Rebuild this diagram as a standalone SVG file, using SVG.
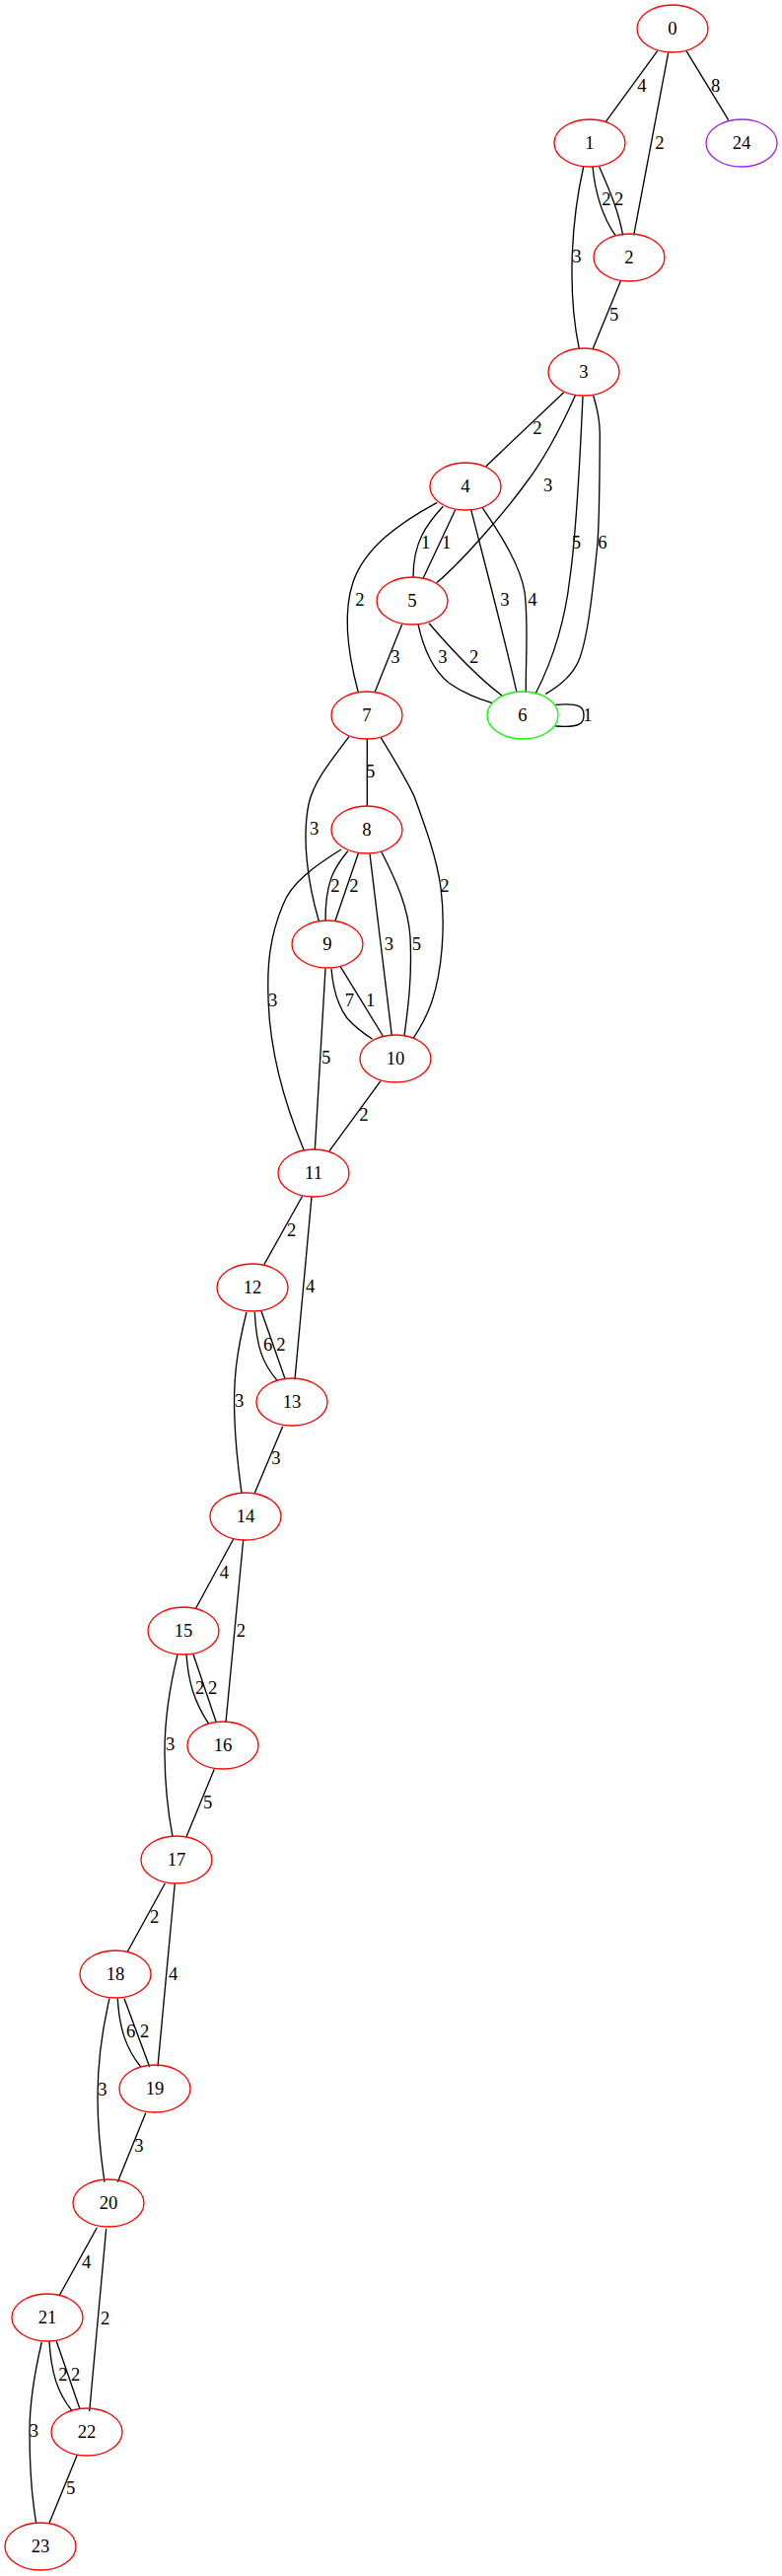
<svg xmlns="http://www.w3.org/2000/svg" width="793" height="2611" viewBox="0 0 793 2611">
<style>
.n ellipse{fill:none;stroke:#ff0000;stroke-width:1.33}
.n text,.l text{font-family:"Liberation Serif","Times New Roman",serif;font-size:18.67px;text-anchor:middle;fill:#000}
.e path{fill:none;stroke:#000;stroke-width:1.33}
</style>
<rect width="793" height="2611" fill="#fff"/>
<g id="edges" class="e">
<path d="M666.7,51.7 L614.3,123.3"/>
<path d="M677.7,53.3 L642.7,238.3"/>
<path d="M696,51.7 L738.7,121.7"/>
<path d="M601,169 C603,190 608,215 624,238.7"/>
<path d="M607.7,169 C616,188 627,212 631.7,238.7"/>
<path d="M591.7,169 C578,230 576,300 587.3,353.3"/>
<path d="M629.3,285 L601,354"/>
<path d="M571.7,397.7 L492.7,472.7"/>
<path d="M583.3,401 C568,435 550,468 533,490 C515,515 470,568 442.7,590.7"/>
<path d="M591,401.7 C588,470 583,550 578,585 C573,630 560,670 543.3,702.7"/>
<path d="M601.7,401 C606,415 608.3,425 608.3,440 C608,490 608,540 605,560 C600,610 595,650 586.7,670 C580,685 568,695 553.3,703.3"/>
<path d="M449.3,513.3 C432,532 419,550 419,585"/>
<path d="M461.7,516.7 L429.3,585.7"/>
<path d="M443.3,509.3 C405,530 370,555 358,590 C348,620 352,660 363.3,701.7"/>
<path d="M477.7,516.7 C490,565 510,640 524,701.7"/>
<path d="M489,514.3 C510,545 528,575 532,600 C536,630 533,670 533.3,701.7"/>
<path d="M407.7,632.7 L380,701.7"/>
<path d="M424,632.7 C430,660 440,680 455,692 C470,703 485,708 499.3,712.7"/>
<path d="M435,631.7 C455,655 480,683 509,705"/>
<path d="M563.3,714.3 C590,712 592,718 592,725 C592,732 590,738 563.3,736"/>
<path d="M372.3,749 L372.3,817.3"/>
<path d="M354,746.7 C335,772 318,792 313,815 C306,850 312,895 323.3,933.3"/>
<path d="M386,747.3 C400,770 412,790 420,807 C432,840 443,870 447,900 C452,940 448,985 438,1015 C433,1030 426,1042 419,1052.7"/>
<path d="M352.7,862.7 C338,880 330,895 330,933.3"/>
<path d="M363.3,865 L340,933.3"/>
<path d="M346,861 C320,877 295,895 287,917 C273,950 271,980 272,1010 C273,1060 285,1110 308.3,1166"/>
<path d="M375,865.7 L397.3,1049.3"/>
<path d="M386.7,863.3 C402,893 414,920 416,950 C418,990 414,1020 410,1050"/>
<path d="M336,981.7 C338,1005 343,1020 352,1032 C360,1041 368,1047 377.7,1053.3"/>
<path d="M345,979.3 L388.3,1050"/>
<path d="M330,981.7 L319.3,1166"/>
<path d="M386,1095.7 L334,1166.7"/>
<path d="M306.7,1212.3 L267.3,1282.7"/>
<path d="M316,1213.3 L299,1398.3"/>
<path d="M258.3,1330 C260,1365 266,1382 281.7,1400"/>
<path d="M265,1329 L289.3,1398.3"/>
<path d="M250,1330 C240,1370 236,1400 238,1440 C239,1470 242,1490 245,1513.3"/>
<path d="M286.7,1445.7 L258.3,1513.3"/>
<path d="M236.7,1560 L198.3,1630.7"/>
<path d="M246.7,1561 L229,1745.7"/>
<path d="M189,1676.7 C191,1705 197,1725 211.7,1747.3"/>
<path d="M196,1676.7 L219.3,1745.7"/>
<path d="M180,1677.3 C172,1710 167,1740 167,1775 C167,1810 170,1835 175,1861.7"/>
<path d="M217.3,1793.3 L189,1861.7"/>
<path d="M167.3,1909 L129.3,1978.3"/>
<path d="M177.3,1909.3 L160,2094.4"/>
<path d="M119.3,2025.7 C121,2055 127,2075 142.7,2095"/>
<path d="M126,2025.7 L151.7,2095"/>
<path d="M111,2025.7 C103,2060 99,2090 99,2125 C99,2160 102,2185 106,2211.7"/>
<path d="M147.7,2141.7 L119.3,2211.7"/>
<path d="M98.3,2258 L60,2327"/>
<path d="M107.7,2259 L90.7,2444"/>
<path d="M50,2373.3 C52,2405 58,2425 73.3,2444"/>
<path d="M57.3,2373.3 L81,2441.7"/>
<path d="M42.3,2374 C35,2405 30,2435 30,2465 C30,2500 32,2530 36.7,2557.3"/>
<path d="M78.3,2488.3 L50,2557.3"/>
</g>
<g id="edge-labels" class="l">
<text x="651" y="93.3">4</text>
<text x="669" y="151">2</text>
<text x="725.7" y="92.7">8</text>
<text x="615" y="208.3">2</text>
<text x="627.7" y="208.3">2</text>
<text x="585" y="266">3</text>
<text x="622.7" y="325.3">5</text>
<text x="545" y="440.3">2</text>
<text x="555.7" y="498.3">3</text>
<text x="584.3" y="556">5</text>
<text x="611" y="556">6</text>
<text x="431.7" y="556">1</text>
<text x="452.7" y="556">1</text>
<text x="365" y="614.3">2</text>
<text x="512" y="614.3">3</text>
<text x="540" y="614.3">4</text>
<text x="401" y="672">3</text>
<text x="449" y="672">3</text>
<text x="480.7" y="672">2</text>
<text x="596" y="731">1</text>
<text x="375.7" y="787.7">5</text>
<text x="318.7" y="846">3</text>
<text x="451" y="904.3">2</text>
<text x="340" y="904.3">2</text>
<text x="359" y="904.3">2</text>
<text x="276.7" y="1020.3">3</text>
<text x="394.3" y="962.7">3</text>
<text x="422.3" y="962.7">5</text>
<text x="354.3" y="1020.3">7</text>
<text x="375.7" y="1020.3">1</text>
<text x="330.7" y="1078.3">5</text>
<text x="369" y="1136">2</text>
<text x="295.7" y="1252.7">2</text>
<text x="314.7" y="1310.3">4</text>
<text x="271.7" y="1368.7">6</text>
<text x="285" y="1368.7">2</text>
<text x="242.7" y="1426">3</text>
<text x="280" y="1484.3">3</text>
<text x="227.3" y="1600.3">4</text>
<text x="244.3" y="1658.7">2</text>
<text x="202.7" y="1716.7">2</text>
<text x="215.7" y="1716.7">2</text>
<text x="172.7" y="1774.3">3</text>
<text x="210.7" y="1832.7">5</text>
<text x="156.7" y="1949.3">2</text>
<text x="175.7" y="2006.7">4</text>
<text x="132.7" y="2064.9">6</text>
<text x="146.7" y="2064.9">2</text>
<text x="104" y="2123.5">3</text>
<text x="141" y="2181.3">3</text>
<text x="87.7" y="2298.6">4</text>
<text x="106.7" y="2356">2</text>
<text x="64" y="2412.7">2</text>
<text x="76.7" y="2412.7">2</text>
<text x="34.3" y="2470">3</text>
<text x="71.7" y="2528.3">5</text>
</g>
<g id="node0" class="n"><ellipse cx="682" cy="29" rx="36" ry="24"/><text x="682" y="35">0</text></g>
<g id="node1" class="n"><ellipse cx="598" cy="145" rx="36" ry="24"/><text x="598" y="151">1</text></g>
<g id="node24" class="n"><ellipse cx="752" cy="145" rx="36" ry="24" style="stroke:#a020f0"/><text x="752" y="151">24</text></g>
<g id="node2" class="n"><ellipse cx="638" cy="261" rx="36" ry="24"/><text x="638" y="267">2</text></g>
<g id="node3" class="n"><ellipse cx="592" cy="377" rx="36" ry="24"/><text x="592" y="383">3</text></g>
<g id="node4" class="n"><ellipse cx="472" cy="493" rx="36" ry="24"/><text x="472" y="499">4</text></g>
<g id="node5" class="n"><ellipse cx="418" cy="609" rx="36" ry="24"/><text x="418" y="615">5</text></g>
<g id="node6" class="n"><ellipse cx="530" cy="725" rx="36" ry="24" style="stroke:#00ff00"/><text x="530" y="731">6</text></g>
<g id="node7" class="n"><ellipse cx="372" cy="725" rx="36" ry="24"/><text x="372" y="731">7</text></g>
<g id="node8" class="n"><ellipse cx="372" cy="841" rx="36" ry="24"/><text x="372" y="847">8</text></g>
<g id="node9" class="n"><ellipse cx="332" cy="957" rx="36" ry="24"/><text x="332" y="963">9</text></g>
<g id="node10" class="n"><ellipse cx="401" cy="1073" rx="36" ry="24"/><text x="401" y="1079">10</text></g>
<g id="node11" class="n"><ellipse cx="318" cy="1189" rx="36" ry="24"/><text x="318" y="1195">11</text></g>
<g id="node12" class="n"><ellipse cx="256" cy="1305" rx="36" ry="24"/><text x="256" y="1311">12</text></g>
<g id="node13" class="n"><ellipse cx="296" cy="1421" rx="36" ry="24"/><text x="296" y="1427">13</text></g>
<g id="node14" class="n"><ellipse cx="249" cy="1537" rx="36" ry="24"/><text x="249" y="1543">14</text></g>
<g id="node15" class="n"><ellipse cx="186" cy="1653" rx="36" ry="24"/><text x="186" y="1659">15</text></g>
<g id="node16" class="n"><ellipse cx="226" cy="1769" rx="36" ry="24"/><text x="226" y="1775">16</text></g>
<g id="node17" class="n"><ellipse cx="179" cy="1885" rx="36" ry="24"/><text x="179" y="1891">17</text></g>
<g id="node18" class="n"><ellipse cx="117" cy="2001" rx="36" ry="24"/><text x="117" y="2007">18</text></g>
<g id="node19" class="n"><ellipse cx="157" cy="2117" rx="36" ry="24"/><text x="157" y="2123">19</text></g>
<g id="node20" class="n"><ellipse cx="110" cy="2233" rx="36" ry="24"/><text x="110" y="2239">20</text></g>
<g id="node21" class="n"><ellipse cx="48" cy="2349" rx="36" ry="24"/><text x="48" y="2355">21</text></g>
<g id="node22" class="n"><ellipse cx="88" cy="2465" rx="36" ry="24"/><text x="88" y="2471">22</text></g>
<g id="node23" class="n"><ellipse cx="41" cy="2581" rx="36" ry="24"/><text x="41" y="2587">23</text></g>
</svg>
